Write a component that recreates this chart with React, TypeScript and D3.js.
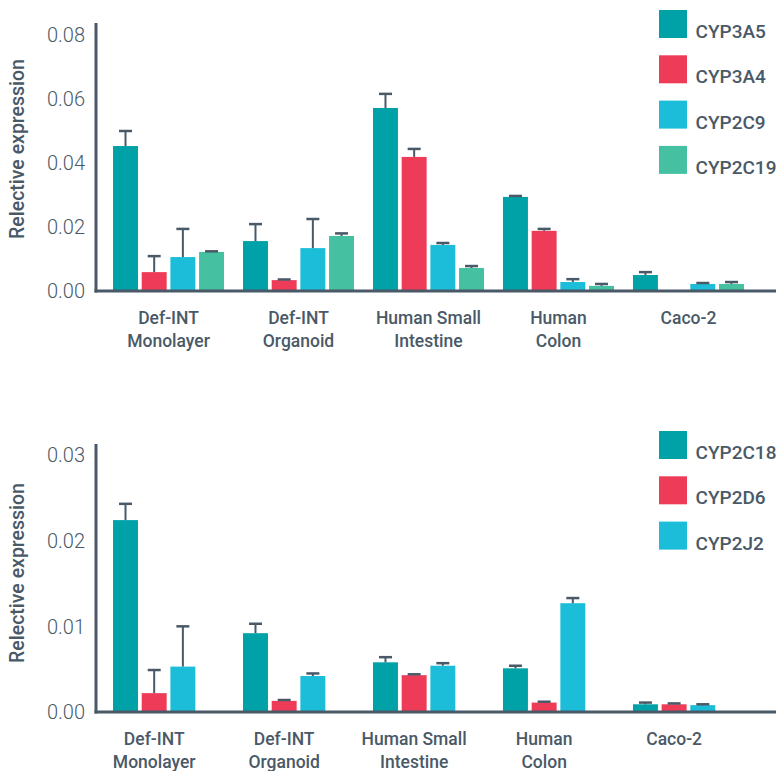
import React from "react";
import * as d3 from "d3";

// Sample groups (x categories)
const groups = ["Def-INT|Monolayer", "Def-INT|Organoid", "Human Small|Intestine", "Human|Colon", "Caco-2"];

// Panel A: CYP3A5 / CYP3A4 / CYP2C9 / CYP2C19
const seriesA = ["CYP3A5", "CYP3A4", "CYP2C9", "CYP2C19"];
const cyp3a5 = [0.0453, 0.0156, 0.0572, 0.0294, 0.005];
const cyp3a5Err = [0.0047, 0.0053, 0.0044, 0.0003, 0.0009];
const cyp3a4 = [0.0059, 0.0034, 0.0419, 0.0188, 0];
const cyp3a4Err = [0.005, 0.0002, 0.0025, 0.0006, 0];
const cyp2c9 = [0.0106, 0.0134, 0.0144, 0.0028, 0.0022];
const cyp2c9Err = [0.0088, 0.0091, 0.0006, 0.0009, 0.0003];
const cyp2c19 = [0.0122, 0.0172, 0.0072, 0.0016, 0.0022];
const cyp2c19Err = [0.0002, 0.0008, 0.0006, 0.0006, 0.0006];
const ticksA = [0, 0.02, 0.04, 0.06, 0.08];

// Panel B: CYP2C18 / CYP2D6 / CYP2J2
const seriesB = ["CYP2C18", "CYP2D6", "CYP2J2"];
const cyp2c18 = [0.0224, 0.0092, 0.0058, 0.0051, 0.0009];
const cyp2c18Err = [0.0019, 0.0011, 0.0006, 0.0003, 0.0002];
const cyp2d6 = [0.0022, 0.0013, 0.0043, 0.0011, 0.0009];
const cyp2d6Err = [0.0027, 0.0001, 0.0001, 0.0001, 0.0001];
const cyp2j2 = [0.0053, 0.0042, 0.0054, 0.0127, 0.0008];
const cyp2j2Err = [0.0047, 0.0003, 0.0003, 0.0006, 0.0001];
const ticksB = [0, 0.01, 0.02, 0.03];

const palette = ["#00a2a8", "#ee3b58", "#1bbdd9", "#45c0a0"];
const ink = "#4a5967";
const font = "Roboto, 'Open Sans', sans-serif";

type Panel = {
  series: string[];
  values: number[][];
  errors: number[][];
  ticks: number[];
  top: number; // pixel of max tick
  base: number; // pixel of zero
  axisTop: number;
  legendTop: number;
  titleY: number;
};

const panels: Panel[] = [
  {
    series: seriesA,
    values: [cyp3a5, cyp3a4, cyp2c9, cyp2c19],
    errors: [cyp3a5Err, cyp3a4Err, cyp2c9Err, cyp2c19Err],
    ticks: ticksA,
    top: 35,
    base: 291,
    axisTop: 23,
    legendTop: 10,
    titleY: 149,
  },
  {
    series: seriesB,
    values: [cyp2c18, cyp2d6, cyp2j2],
    errors: [cyp2c18Err, cyp2d6Err, cyp2j2Err],
    ticks: ticksB,
    top: 455,
    base: 712,
    axisTop: 444,
    legendTop: 431,
    titleY: 573,
  },
];

const axisX = 96;
const axisRight = 776;

const x0 = d3.scaleBand<string>().domain(groups).range([96, 761]).paddingInner(0.146).paddingOuter(0.131);
const slotPad = 0.13;
const slotStep = x0.bandwidth() / (4 - slotPad);

function ChartPanel({ p }: { p: Panel }) {
  const y = d3
    .scaleLinear()
    .domain([0, p.ticks[p.ticks.length - 1]])
    .range([p.base, p.top]);
  const n = p.series.length;
  const x1 = d3
    .scaleBand<number>()
    .domain(d3.range(n))
    .range([0, slotStep * (n - slotPad)])
    .paddingInner(slotPad);
  const fmt = d3.format(".2f");
  const capHalf = 6.5;

  return (
    <g>
      {/* bars */}
      {p.values.map((vals, si) =>
        vals.map((v, gi) => {
          if (v <= 0) return null;
          const gx = (x0(groups[gi]) ?? 0) + (x1(si) ?? 0);
          return (
            <rect
              key={`b${si}-${gi}`}
              x={gx}
              y={y(v)}
              width={x1.bandwidth()}
              height={y(0) - y(v)}
              fill={palette[si]}
            />
          );
        })
      )}
      {/* error bars */}
      {p.values.map((vals, si) =>
        vals.map((v, gi) => {
          if (v <= 0) return null;
          const cx = (x0(groups[gi]) ?? 0) + (x1(si) ?? 0) + x1.bandwidth() / 2;
          const yt = y(v + p.errors[si][gi]);
          return (
            <g key={`e${si}-${gi}`} stroke={ink} strokeWidth={2}>
              <line x1={cx} x2={cx} y1={y(v)} y2={yt} />
              <line x1={cx - capHalf} x2={cx + capHalf} y1={yt} y2={yt} strokeWidth={2.5} />
            </g>
          );
        })
      )}
      {/* axes */}
      <line x1={axisX} x2={axisX} y1={p.axisTop} y2={p.base + 1.5} stroke={ink} strokeWidth={3} />
      <line x1={axisX - 1.5} x2={axisRight} y1={p.base} y2={p.base} stroke={ink} strokeWidth={3} />
      {p.ticks.map((t) => (
        <text
          key={`t${t}`}
          x={85}
          y={y(t)}
          dy="0.36em"
          textAnchor="end"
          fontFamily={font}
          fontWeight={300}
          fontSize={20}
          fill={ink}
        >
          {fmt(t)}
        </text>
      ))}
      {/* category labels */}
      {groups.map((g, gi) => {
        const cx = (x0(g) ?? 0) + x1.range()[1] / 2;
        const lines = g.split("|");
        return (
          <text
            key={`c${gi}`}
            x={cx}
            y={p.base + 33}
            textAnchor="middle"
            fontFamily={font}
            fontWeight={500}
            fontSize={17.5}
            fill={ink}
          >
            {lines.map((l, li) => (
              <tspan key={li} x={cx} dy={li === 0 ? 0 : 22.5}>
                {l}
              </tspan>
            ))}
          </text>
        );
      })}
      {/* y axis title */}
      <text
        transform={`translate(24, ${p.titleY}) rotate(-90)`}
        textAnchor="middle"
        fontFamily={font}
        fontWeight={500}
        fontSize={19.5}
        fill={ink}
      >
        Relective expression
      </text>
      {/* legend */}
      {p.series.map((s, si) => (
        <g key={`l${s}`} transform={`translate(659, ${p.legendTop + si * 45.3})`}>
          <rect width={28} height={28} fill={palette[si]} />
          <text x={36.5} y={28} fontFamily={font} fontWeight={500} fontSize={19} fill={ink}>
            {s}
          </text>
        </g>
      ))}
    </g>
  );
}

export default function App() {
  return (
    <svg
      width={776}
      height={771}
      style={{ position: "absolute", left: 0, top: 0, background: "#fff" }}
    >
      {panels.map((p, i) => (
        <ChartPanel key={i} p={p} />
      ))}
    </svg>
  );
}
